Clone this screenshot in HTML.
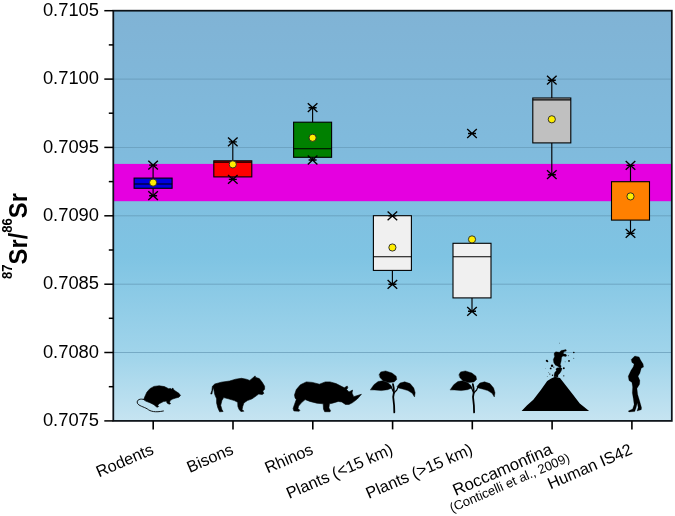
<!DOCTYPE html><html><head><meta charset="utf-8"><title>87Sr/86Sr</title>
<style>html,body{margin:0;padding:0;background:#fff}svg{display:block}text{font-family:"Liberation Sans",Arial,sans-serif;fill:#000}</style></head><body>
<svg width="675" height="516" viewBox="0 0 675 516">
<defs><linearGradient id="bg" x1="0" y1="0" x2="0" y2="1"><stop offset="0" stop-color="#80b3d5"/><stop offset="0.35" stop-color="#80bbdd"/><stop offset="0.6" stop-color="#7fc4e3"/><stop offset="0.85" stop-color="#a2d5eb"/><stop offset="1" stop-color="#c6e4f1"/></linearGradient>
<g id="star" stroke="#000" stroke-width="1.35" fill="none"><path d="M-4.8-4.4L4.8 4.4M4.8-4.4L-4.8 4.4M-4 0H4"/></g>
</defs>
<rect x="113.3" y="10.7" width="558.5" height="410.2" fill="url(#bg)"/>
<line x1="113.3" x2="671.8" y1="79.1" y2="79.1" stroke="#5f93b0" stroke-width="0.8" opacity="0.8"/>
<line x1="113.3" x2="671.8" y1="147.4" y2="147.4" stroke="#5f93b0" stroke-width="0.8" opacity="0.8"/>
<line x1="113.3" x2="671.8" y1="215.8" y2="215.8" stroke="#5f93b0" stroke-width="0.8" opacity="0.8"/>
<line x1="113.3" x2="671.8" y1="284.2" y2="284.2" stroke="#5f93b0" stroke-width="0.8" opacity="0.8"/>
<line x1="113.3" x2="671.8" y1="352.5" y2="352.5" stroke="#5f93b0" stroke-width="0.8" opacity="0.8"/>
<rect x="113.3" y="163.9" width="558.5" height="37.3" fill="#e500e0"/>
<line x1="153.1" x2="153.1" y1="165.1" y2="178.1" stroke="#000" stroke-width="1.15"/>
<line x1="153.1" x2="153.1" y1="188.3" y2="195.7" stroke="#000" stroke-width="1.15"/>
<rect x="134.1" y="178.1" width="38.0" height="10.2" fill="#0000e0" stroke="#000" stroke-width="1.1"/>
<line x1="134.1" x2="172.1" y1="184.0" y2="184.0" stroke="#000" stroke-width="1.1"/>
<use href="#star" x="153.1" y="165.1"/>
<use href="#star" x="153.1" y="195.7"/>
<circle cx="153.1" cy="182.6" r="3.6" fill="#ffee00" stroke="#222" stroke-width="0.9"/>
<line x1="232.8" x2="232.8" y1="141.9" y2="160.8" stroke="#000" stroke-width="1.15"/>
<line x1="232.8" x2="232.8" y1="176.9" y2="179.3" stroke="#000" stroke-width="1.15"/>
<rect x="213.8" y="160.8" width="38.0" height="16.1" fill="#ff0000" stroke="#000" stroke-width="1.1"/>
<line x1="213.8" x2="251.8" y1="162.1" y2="162.1" stroke="#000" stroke-width="1.1"/>
<use href="#star" x="232.8" y="141.9"/>
<use href="#star" x="232.8" y="179.3"/>
<circle cx="232.8" cy="164.4" r="3.6" fill="#ffee00" stroke="#222" stroke-width="0.9"/>
<line x1="312.6" x2="312.6" y1="107.7" y2="122.2" stroke="#000" stroke-width="1.15"/>
<line x1="312.6" x2="312.6" y1="157.3" y2="160.0" stroke="#000" stroke-width="1.15"/>
<rect x="293.6" y="122.2" width="38.0" height="35.1" fill="#008000" stroke="#000" stroke-width="1.1"/>
<line x1="293.6" x2="331.6" y1="148.7" y2="148.7" stroke="#000" stroke-width="1.1"/>
<use href="#star" x="312.6" y="107.7"/>
<use href="#star" x="312.6" y="160.0"/>
<circle cx="312.6" cy="137.8" r="3.6" fill="#ffee00" stroke="#222" stroke-width="0.9"/>
<line x1="392.4" x2="392.4" y1="270.4" y2="284.3" stroke="#000" stroke-width="1.15"/>
<rect x="373.4" y="215.7" width="38.0" height="54.7" fill="#f0f0f0" stroke="#000" stroke-width="1.1"/>
<line x1="373.4" x2="411.4" y1="256.8" y2="256.8" stroke="#000" stroke-width="1.1"/>
<use href="#star" x="392.4" y="215.9"/>
<use href="#star" x="392.4" y="284.3"/>
<circle cx="392.4" cy="247.5" r="3.6" fill="#ffee00" stroke="#222" stroke-width="0.9"/>
<line x1="472.0" x2="472.0" y1="297.9" y2="311.3" stroke="#000" stroke-width="1.15"/>
<rect x="453.0" y="243.3" width="38.0" height="54.6" fill="#f0f0f0" stroke="#000" stroke-width="1.1"/>
<line x1="453.0" x2="491.0" y1="256.8" y2="256.8" stroke="#000" stroke-width="1.1"/>
<use href="#star" x="472.0" y="311.3"/>
<circle cx="472.0" cy="239.4" r="3.6" fill="#ffee00" stroke="#222" stroke-width="0.9"/>
<line x1="551.8" x2="551.8" y1="80.2" y2="98.0" stroke="#000" stroke-width="1.15"/>
<line x1="551.8" x2="551.8" y1="142.9" y2="174.7" stroke="#000" stroke-width="1.15"/>
<rect x="532.8" y="98.0" width="38.0" height="44.9" fill="#c0c0c0" stroke="#000" stroke-width="1.1"/>
<line x1="532.8" x2="570.8" y1="99.9" y2="99.9" stroke="#000" stroke-width="1.1"/>
<use href="#star" x="551.8" y="80.2"/>
<use href="#star" x="551.8" y="174.7"/>
<circle cx="551.8" cy="119.3" r="3.6" fill="#ffee00" stroke="#222" stroke-width="0.9"/>
<line x1="630.5" x2="630.5" y1="165.4" y2="181.7" stroke="#000" stroke-width="1.15"/>
<line x1="630.5" x2="630.5" y1="220.1" y2="233.3" stroke="#000" stroke-width="1.15"/>
<rect x="611.5" y="181.7" width="38.0" height="38.4" fill="#ff8000" stroke="#000" stroke-width="1.1"/>
<use href="#star" x="630.5" y="165.4"/>
<use href="#star" x="630.5" y="233.3"/>
<circle cx="630.5" cy="196.4" r="3.6" fill="#ffee00" stroke="#222" stroke-width="0.9"/>
<use href="#star" x="472.0" y="133.5"/>
<path d="M180.5 395.4 L178.9 393.3 L175.8 391.3 L173.7 389.7 L172.9 388.1 L172.2 388.5 L171.7 389.2 L170.6 388.5 L168.6 388.7 L164.4 386.6 L159.2 385.8 L154.0 386.4 L149.9 388.7 L146.8 392.3 L144.7 397.0 L143.7 399.6 L145.7 401.1 L149.9 402.7 L154.0 404.7 L155.6 406.3 L157.1 407.3 L158.7 406.5 L157.7 405.3 L159.2 403.7 L163.4 401.6 L166.5 401.1 L167.0 403.0 L169.1 404.2 L170.6 403.7 L169.6 402.4 L170.1 400.6 L172.7 399.0 L175.8 398.0 L178.9 397.2Z" fill="#000" stroke="#000" stroke-width="0.6" stroke-linejoin="round"/>
<path d="M144.2 399.6 C140.6 398.2 136.2 399.6 137.4 403.2 C138.5 405.8 143.7 406.8 147.3 408.9 C150.4 411.5 155.1 412.7 163.4 411.0" fill="none" stroke="#000" stroke-width="0.9" stroke-linecap="round"/>
<path d="M210.7 394.0 L211.9 390.5 L212.4 386.3 L214.8 384.0 L221.3 382.2 L229.6 381.0 L235.6 379.2 L241.5 378.3 L246.2 379.2 L249.8 380.4 L252.7 378.0 L255.1 375.9 L255.7 377.4 L259.3 378.6 L262.2 382.2 L264.6 386.3 L264.6 389.3 L262.8 391.1 L263.8 393.4 L262.2 394.6 L258.7 394.0 L256.3 395.8 L252.1 398.8 L247.4 400.6 L243.9 402.9 L242.7 406.5 L242.1 409.4 L243.9 411.2 L240.9 411.5 L239.1 409.4 L237.9 406.5 L237.7 402.3 L234.4 400.6 L228.4 398.8 L223.7 397.6 L221.9 400.6 L220.7 405.3 L221.9 409.4 L223.1 411.5 L219.6 411.8 L217.8 407.7 L216.6 402.9 L216.6 398.8 L214.8 394.6 L214.0 390.5 L213.6 387.5 L212.4 391.1 L211.9 394.0Z" fill="#000" stroke="#000" stroke-width="0.6" stroke-linejoin="round"/>
<path d="M294.5 394.9 L296.3 389.6 L300.4 384.8 L306.3 381.9 L312.3 382.4 L319.4 384.2 L325.3 381.9 L330.0 381.9 L336.0 383.6 L341.9 386.6 L344.3 387.8 L347.2 386.0 L347.8 387.8 L346.6 389.6 L349.0 391.9 L352.6 390.1 L352.0 393.1 L353.7 396.7 L361.4 394.3 L357.3 399.0 L352.6 402.6 L349.0 404.4 L345.4 404.4 L341.9 402.0 L338.3 401.4 L332.4 403.2 L329.4 403.8 L328.9 407.9 L330.6 410.9 L330.0 411.7 L324.7 411.7 L323.5 409.1 L323.2 403.8 L317.0 403.2 L309.9 401.4 L305.1 399.6 L301.6 402.6 L298.6 406.1 L298.0 408.5 L299.8 410.3 L299.2 411.2 L293.9 410.9 L293.1 408.5 L294.5 404.4 L296.3 399.6 L295.1 397.9Z" fill="#000" stroke="#000" stroke-width="0.6" stroke-linejoin="round"/>
<g fill="#000" stroke="#000" stroke-linejoin="round" stroke-linecap="round">
<path d="M379.2 374.6 L380.8 371.9 L385.6 370.9 L392.0 373.0 L396.2 376.2 L396.8 379.4 L394.1 382.0 L388.8 382.6 L383.4 381.0 L380.2 377.8Z" stroke-width="0.4"/>
<path d="M370.4 389.7 L373.9 384.7 L378.1 381.5 L382.4 380.8 L387.7 382.6 L390.9 385.2 L392.0 387.9 L387.7 389.7 L381.3 390.6 L374.9 390.0Z" stroke-width="0.4"/>
<path d="M397.3 386.3 L400.0 383.1 L404.7 381.8 L410.1 383.6 L413.8 387.9 L415.2 392.7 L414.5 397.0 L412.2 393.2 L407.9 390.6 L402.6 389.0 L398.4 387.9Z" stroke-width="0.4"/>
<path d="M394.3 412.4 L394.1 405.5 L393.2 397.0 L393.9 392.7 L393.7 387.9 L393.0 384.2" fill="none" stroke-width="1.8"/>
<path d="M393.9 393.2 L396.8 390.0 L398.4 386.3" fill="none" stroke-width="1.2"/>
<path d="M393.9 392.9 L392.0 388.7 L390.7 386.3" fill="none" stroke-width="1.1"/>
</g>
<g fill="#000" stroke="#000" stroke-linejoin="round" stroke-linecap="round">
<path d="M459.0 374.6 L460.6 371.9 L465.4 370.9 L471.8 373.0 L476.0 376.2 L476.6 379.4 L473.9 382.0 L468.6 382.6 L463.2 381.0 L460.0 377.8Z" stroke-width="0.4"/>
<path d="M450.2 389.7 L453.7 384.7 L457.9 381.5 L462.2 380.8 L467.5 382.6 L470.7 385.2 L471.8 387.9 L467.5 389.7 L461.1 390.6 L454.7 390.0Z" stroke-width="0.4"/>
<path d="M477.1 386.3 L479.8 383.1 L484.5 381.8 L489.9 383.6 L493.6 387.9 L495.0 392.7 L494.3 397.0 L492.0 393.2 L487.7 390.6 L482.4 389.0 L478.2 387.9Z" stroke-width="0.4"/>
<path d="M474.1 412.4 L473.9 405.5 L473.0 397.0 L473.7 392.7 L473.5 387.9 L472.8 384.2" fill="none" stroke-width="1.8"/>
<path d="M473.7 393.2 L476.6 390.0 L478.2 386.3" fill="none" stroke-width="1.2"/>
<path d="M473.7 392.9 L471.8 388.7 L470.5 386.3" fill="none" stroke-width="1.1"/>
</g>
<path d="M521.6 410.9 L527.1 405.2 L533.3 399.7 L541.0 389.7 L547.2 381.1 L550.7 378.8 L555.0 376.8 L560.0 378.0 L564.3 383.5 L572.1 393.5 L579.8 403.6 L589.1 410.9Z" fill="#000"/>
<path d="M554.2 353.1 L555.9 351.8 L559.4 352.2 L561.2 350.5 L566.0 349.6 L566.4 350.9 L563.8 351.8 L563.4 354.0 L565.5 354.0 L566.8 355.3 L566.0 356.6 L562.9 356.1 L561.6 357.5 L561.2 360.9 L560.3 364.4 L561.2 366.2 L560.3 367.9 L557.7 366.2 L555.5 365.3 L553.8 362.7 L553.3 359.6 L554.6 356.6 L554.2 354.8Z" fill="#000" stroke="#000" stroke-width="0.3" stroke-linejoin="round"/>
<path d="M556.8 367.9 L560.3 367.5 L562.1 368.4 L561.2 371.0 L559.9 373.2 L558.1 374.9 L557.9 377.1 L554.0 376.8 L554.2 374.5 L554.6 372.7 L556.4 370.5 L555.9 369.2Z" fill="#000" stroke="#000" stroke-width="0.3" stroke-linejoin="round"/>
<circle cx="546.8" cy="360.8" r="1.06" fill="#000"/>
<circle cx="547.5" cy="361.5" r="0.82" fill="#000"/>
<circle cx="552.0" cy="365.7" r="1.18" fill="#000"/>
<circle cx="550.7" cy="368.4" r="0.94" fill="#000"/>
<circle cx="553.8" cy="367.1" r="0.59" fill="#000"/>
<circle cx="563.8" cy="368.2" r="0.94" fill="#000"/>
<circle cx="569.0" cy="360.9" r="0.94" fill="#000"/>
<circle cx="573.8" cy="352.5" r="0.82" fill="#000"/>
<circle cx="573.8" cy="358.3" r="0.47" fill="#000"/>
<circle cx="568.6" cy="355.7" r="0.47" fill="#000"/>
<circle cx="563.8" cy="375.8" r="0.59" fill="#000"/>
<circle cx="549.8" cy="374.0" r="0.59" fill="#000"/>
<circle cx="548.5" cy="372.3" r="0.35" fill="#000"/>
<circle cx="559.4" cy="343.1" r="0.35" fill="#000"/>
<circle cx="565.1" cy="361.8" r="0.35" fill="#000"/>
<circle cx="547.2" cy="376.6" r="0.35" fill="#000"/>
<circle cx="545.5" cy="368.8" r="0.24" fill="#000"/>
<circle cx="552.5" cy="375.3" r="0.71" fill="#000"/>
<path d="M634.8 355.9 L631.2 359.5 L631.9 362.4 L634.1 363.9 L633.3 366.8 L630.9 370.4 L628.2 376.2 L629.0 380.6 L631.9 382.5 L632.6 387.1 L632.3 392.9 L633.3 398.8 L634.1 404.6 L632.6 408.9 L628.2 411.1 L629.0 412.1 L634.8 411.5 L636.2 407.5 L637.3 403.1 L638.1 407.5 L637.0 411.1 L641.3 409.7 L641.6 407.8 L639.9 401.7 L637.7 394.4 L637.0 388.6 L639.6 384.2 L639.9 380.6 L638.1 376.2 L639.9 373.3 L641.3 368.2 L643.6 367.1 L643.1 363.9 L640.6 360.0 L639.1 356.9Z" fill="#000" stroke="#000" stroke-width="0.2" stroke-linejoin="round"/>
<rect x="113.3" y="10.7" width="558.5" height="410.2" fill="none" stroke="#0c1218" stroke-width="1.75"/>
<line x1="104.3" x2="113.3" y1="10.7" y2="10.7" stroke="#000" stroke-width="1.5"/>
<text x="99" y="15.9" font-size="18.35" text-anchor="end">0.7105</text>
<line x1="108.8" x2="113.3" y1="44.9" y2="44.9" stroke="#000" stroke-width="1.5"/>
<line x1="104.3" x2="113.3" y1="79.1" y2="79.1" stroke="#000" stroke-width="1.5"/>
<text x="99" y="84.3" font-size="18.35" text-anchor="end">0.7100</text>
<line x1="108.8" x2="113.3" y1="113.2" y2="113.2" stroke="#000" stroke-width="1.5"/>
<line x1="104.3" x2="113.3" y1="147.4" y2="147.4" stroke="#000" stroke-width="1.5"/>
<text x="99" y="152.6" font-size="18.35" text-anchor="end">0.7095</text>
<line x1="108.8" x2="113.3" y1="181.6" y2="181.6" stroke="#000" stroke-width="1.5"/>
<line x1="104.3" x2="113.3" y1="215.8" y2="215.8" stroke="#000" stroke-width="1.5"/>
<text x="99" y="221.0" font-size="18.35" text-anchor="end">0.7090</text>
<line x1="108.8" x2="113.3" y1="250.0" y2="250.0" stroke="#000" stroke-width="1.5"/>
<line x1="104.3" x2="113.3" y1="284.2" y2="284.2" stroke="#000" stroke-width="1.5"/>
<text x="99" y="289.4" font-size="18.35" text-anchor="end">0.7085</text>
<line x1="108.8" x2="113.3" y1="318.3" y2="318.3" stroke="#000" stroke-width="1.5"/>
<line x1="104.3" x2="113.3" y1="352.5" y2="352.5" stroke="#000" stroke-width="1.5"/>
<text x="99" y="357.7" font-size="18.35" text-anchor="end">0.7080</text>
<line x1="108.8" x2="113.3" y1="386.7" y2="386.7" stroke="#000" stroke-width="1.5"/>
<line x1="104.3" x2="113.3" y1="420.9" y2="420.9" stroke="#000" stroke-width="1.5"/>
<text x="99" y="426.1" font-size="18.35" text-anchor="end">0.7075</text>
<line x1="153.2" x2="153.2" y1="420.9" y2="429.4" stroke="#000" stroke-width="1.6"/>
<text transform="translate(154.7 453.4) rotate(-23.5)" font-size="16.3" text-anchor="end">Rodents</text>
<line x1="233.0" x2="233.0" y1="420.9" y2="429.4" stroke="#000" stroke-width="1.6"/>
<text transform="translate(234.5 453.4) rotate(-23.5)" font-size="16.3" text-anchor="end">Bisons</text>
<line x1="312.8" x2="312.8" y1="420.9" y2="429.4" stroke="#000" stroke-width="1.6"/>
<text transform="translate(314.3 453.4) rotate(-23.5)" font-size="16.3" text-anchor="end">Rhinos</text>
<line x1="392.6" x2="392.6" y1="420.9" y2="429.4" stroke="#000" stroke-width="1.6"/>
<text transform="translate(394.1 453.4) rotate(-23.5)" font-size="16.3" text-anchor="end">Plants (&lt;15 km)</text>
<line x1="472.3" x2="472.3" y1="420.9" y2="429.4" stroke="#000" stroke-width="1.6"/>
<text transform="translate(473.8 453.4) rotate(-23.5)" font-size="16.3" text-anchor="end">Plants (&gt;15 km)</text>
<line x1="552.1" x2="552.1" y1="420.9" y2="429.4" stroke="#000" stroke-width="1.6"/>
<text transform="translate(553.6 453.4) rotate(-23.5)" font-size="16.7" text-anchor="end">Roccamonfina</text>
<line x1="631.9" x2="631.9" y1="420.9" y2="429.4" stroke="#000" stroke-width="1.6"/>
<text transform="translate(633.4 453.4) rotate(-23.5)" font-size="16.3" text-anchor="end">Human IS42</text>
<text transform="translate(570.6 461) rotate(-23.5)" font-size="13" text-anchor="end">(Conticelli et al., 2009)</text>
<text transform="translate(27.2 279) rotate(-90) scale(0.95 1)" font-size="25" font-weight="bold"><tspan font-size="13.8" dy="-15">87</tspan><tspan dy="15">Sr/</tspan><tspan font-size="13.8" dy="-15">86</tspan><tspan dy="15">Sr</tspan></text>
</svg></body></html>
